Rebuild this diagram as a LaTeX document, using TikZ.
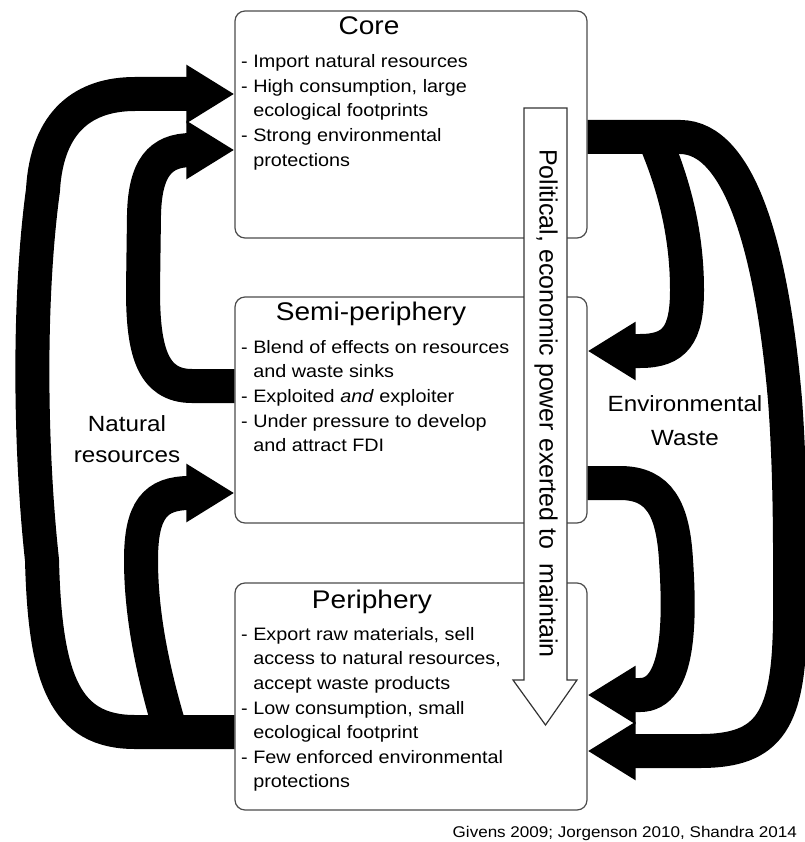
\documentclass[tikz,border=0pt]{standalone}
\usepackage{fontspec}
\setmainfont{Liberation Sans}[FakeStretch=1.1]
\newfontfamily\vertfont{Liberation Sans}
\usetikzlibrary{arrows.meta}
\newcommand{\myind}{\phantom{- }}
\begin{document}
\begin{tikzpicture}[x=1pt,y=-1pt,
  box/.style={draw=black!70, line width=1.2pt, rounded corners=10pt, fill=white,
    minimum width=352pt, inner sep=0pt},
  ttl/.style={font=\fontsize{25.5}{30}\selectfont, anchor=base, inner sep=0pt},
  body/.style={font=\fontsize{18}{24.6}\selectfont, align=left, anchor=north west, inner sep=0pt},
  flow/.style={line width=34pt, -{Triangle[length=48pt,width=55pt]}},
  lbl/.style={font=\fontsize{22}{31}\selectfont, align=center, inner sep=0pt}
]
\useasboundingbox (0,0) rectangle (804,842);

% boxes
\node[box, minimum height=227pt] (core) at (411,124.5) {};
\node[box, minimum height=226pt] (semi) at (411,410) {};
\node[box, minimum height=227pt] (peri) at (411,696.5) {};

% titles
\node[ttl] (coret) at (369,35) {Core};
\node[ttl] (semit) at (371,320) {Semi-periphery};
\node[ttl] (perit) at (372,608) {Periphery};

% bodies
\node[body] (coreb) at (241,54.5) {- Import natural resources\\
- High consumption, large\\
\myind ecological footprints\\
- Strong environmental\\
\myind protections};
\node[body] (semib) at (241,340) {- Blend of effects on resources\\
\myind and waste sinks\\
- Exploited \textit{and} exploiter\\
- Under pressure to develop\\
\myind and attract FDI};
\node[body] (perib) at (241,627) {- Export raw materials, sell\\
\myind access to natural resources,\\
\myind accept waste products\\
- Low consumption, small\\
\myind ecological footprint\\
- Few enforced environmental\\
\myind protections};

% branch points
\coordinate (lb) at (172,736);
\coordinate (rb) at (655,140);

% natural resources flows (left)
\draw[flow] (peri.west |- 0,732) -- (135,732) .. controls (65,732) and (45,680) .. (42,560)
  .. controls (30,450) and (28,300) .. (43,190) .. controls (47,120) and (85,94) .. (135,94)
  -- (core.west |- 0,94);
\draw[flow] (semi.west |- 0,386) -- (192,386) .. controls (152,386) and (143,350) .. (143,290)
  -- (144,215) .. controls (145,168) and (160,150) .. (192,150) -- (core.west |- 0,150);
\draw[flow] (lb) .. controls (155,680) and (141,620) .. (141,560)
  .. controls (141,510) and (155,493) .. (190,493) -- (semi.west |- 0,493);

% environmental waste flows (right)
\draw[flow] (core.east |- 0,137) -- (680,137) .. controls (740,137) and (772,250) .. (785,400)
  .. controls (791,480) and (790,560) .. (790,620) .. controls (789,720) and (770,751) .. (700,751)
  -- (peri.east |- 0,751);
\draw[flow] (rb) .. controls (672,180) and (687,230) .. (687,290)
  .. controls (687,335) and (675,351) .. (640,351) -- (semi.east |- 0,351);
\draw[flow] (semi.east |- 0,483) -- (620,483) .. controls (660,483) and (673,510) .. (676,560)
  .. controls (680,620) and (680,695) .. (640,695) -- (peri.east |- 0,695);

% power arrow
\draw[fill=white, draw=black!80, line width=1.2pt] (524,108) -- (567,108) -- (567,680) -- (577,680)
  -- (545.5,725) -- (513,680) -- (524,680) -- cycle;
\node[rotate=-90, inner sep=0pt, font=\vertfont\fontsize{25}{28}\selectfont] (power) at (546,403.5)
  {Political, economic power exerted to\ \ maintain};

% labels
\node[lbl] (natl) at (127,439.5) {Natural\\resources};
\node[lbl, font=\fontsize{22}{34}\selectfont] (envl) at (685,421) {Environmental\\Waste};
\node[anchor=base east, inner sep=0pt, font=\fontsize{15.5}{18}\selectfont] (cite) at (797,837)
  {Givens 2009; Jorgenson 2010, Shandra 2014};
\end{tikzpicture}
\end{document}
